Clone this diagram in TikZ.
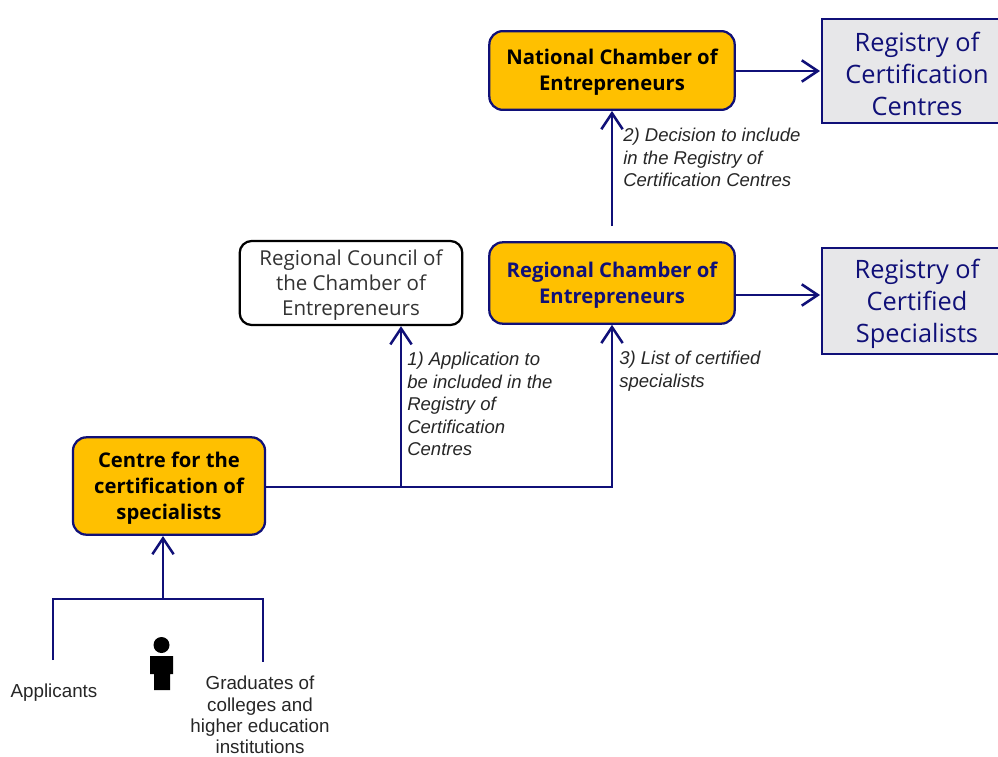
\documentclass[tikz,border=0pt]{standalone}
\usepackage{fontspec}
\setmainfont{Liberation Sans}
\newfontfamily\boxfont{Open Sans}
\usetikzlibrary{arrows.meta}
\definecolor{linenavy}{RGB}{16,16,120}
\definecolor{chamberfill}{RGB}{255,192,0}
\definecolor{registryfill}{RGB}{231,231,233}
\newcommand{\lift}{\rule{0pt}{0.97em}}

\begin{document}
\begin{tikzpicture}[x=0.75pt,y=-0.75pt,>={Straight Barb[length=12pt,width=16pt,line width=1.9pt]},
	flow/.style={draw=linenavy,line width=1.9pt},
	chamber/.style={draw=linenavy,line width=1.7pt,fill=chamberfill,rounded corners=10pt,minimum height=59pt,align=center,inner sep=0pt,
		font=\boxfont\bfseries\fontsize{15.2}{19.5}\selectfont},
	council/.style={draw=black,line width=1.7pt,fill=white,rounded corners=9pt,minimum width=167pt,minimum height=63pt,align=center,inner sep=0pt,text=black!80,
		font=\boxfont\fontsize{15.4}{19}\selectfont},
	registry/.style={draw=linenavy,line width=1.7pt,fill=registryfill,minimum width=142pt,minimum height=78pt,align=center,inner sep=0pt,text=linenavy,
		font=\boxfont\fontsize{19}{24}\selectfont},
	note/.style={align=left,inner sep=0pt,anchor=north west,text=black!85,font=\itshape\fontsize{13.9}{16.9}\selectfont},
	plain/.style={align=center,inner sep=0pt,text=black!85,font=\fontsize{14.1}{16}\selectfont}]

\useasboundingbox (0,0) rectangle (998,756);

\node[chamber,minimum width=184pt]   (national)  at (612,70.5)  {\lift National Chamber of\\Entrepreneurs};
\node[chamber,minimum width=184pt,minimum height=61pt,text=linenavy]   (regional)  at (612,283)  {\lift Regional Chamber of\\Entrepreneurs};
\node[chamber,minimum width=144pt,minimum height=73pt]   (centre)  at (169,486)  {\lift Centre for the\\certification of\\specialists};
\node[council]   (council)  at (351,283)  {\lift Regional Council of\\the Chamber of\\Entrepreneurs};
\node[registry]   (regcentres)  at (917,71)  {\lift Registry of\\Certification\\Centres};
\node[registry,minimum height=79pt]   (regspecialists)  at (917,301)  {\lift Registry of\\Certified\\Specialists};

\node[note]   (note2)  at (623,128)  {2) Decision to include\\in the Registry of\\Certification Centres};
\node[note]   (note1)  at (407,352)  {1) Application to\\be included in the\\Registry of\\Certification\\Centres};
\node[note]   (note3)  at (619,351)  {3) List of certified\\specialists};
\node[plain]   (applicants)  at (54,693)  {Applicants};
\node[plain,anchor=north]   (graduates)  at (260,676)  {Graduates of\\colleges and\\higher education\\institutions};

\coordinate (natout) at (national.east |- 0,71);
\coordinate (natin) at (820,71);
\coordinate (regout) at (regional.east |- 0,295);
\coordinate (regin) at (820,295);
\coordinate (decision) at (612,226);
\coordinate (split) at (401,487);
\coordinate (corner) at (612,487);
\coordinate (centreout) at (centre.east |- split);
\coordinate (join) at (163,599);
\coordinate (centrein) at (163,536);
\coordinate (appltop) at (53,599);
\coordinate (appl) at (53,660);
\coordinate (gradtop) at (263,599);
\coordinate (grad) at (263,662);

\draw[flow,->] (natout) -- (natin);
\draw[flow,->] (regout) -- (regin);
\draw[flow,->] (decision) -- (national.south);
\draw[flow,->] (centreout) -- (corner) -- (regional.south);
\draw[flow,->] (split) -- (split |- council.south);
\draw[flow,->] (join) -- (centrein);
\draw[flow] (appl) -- (appltop) -- (gradtop) -- (grad);

\fill[black] (161.5,645) circle[radius=8];
\fill[black] (150,656) -- (173,656) -- (173,674) -- (170,674) -- (170,690) -- (154,690) -- (154,674) -- (150,674) -- cycle;

\end{tikzpicture}
\end{document}
